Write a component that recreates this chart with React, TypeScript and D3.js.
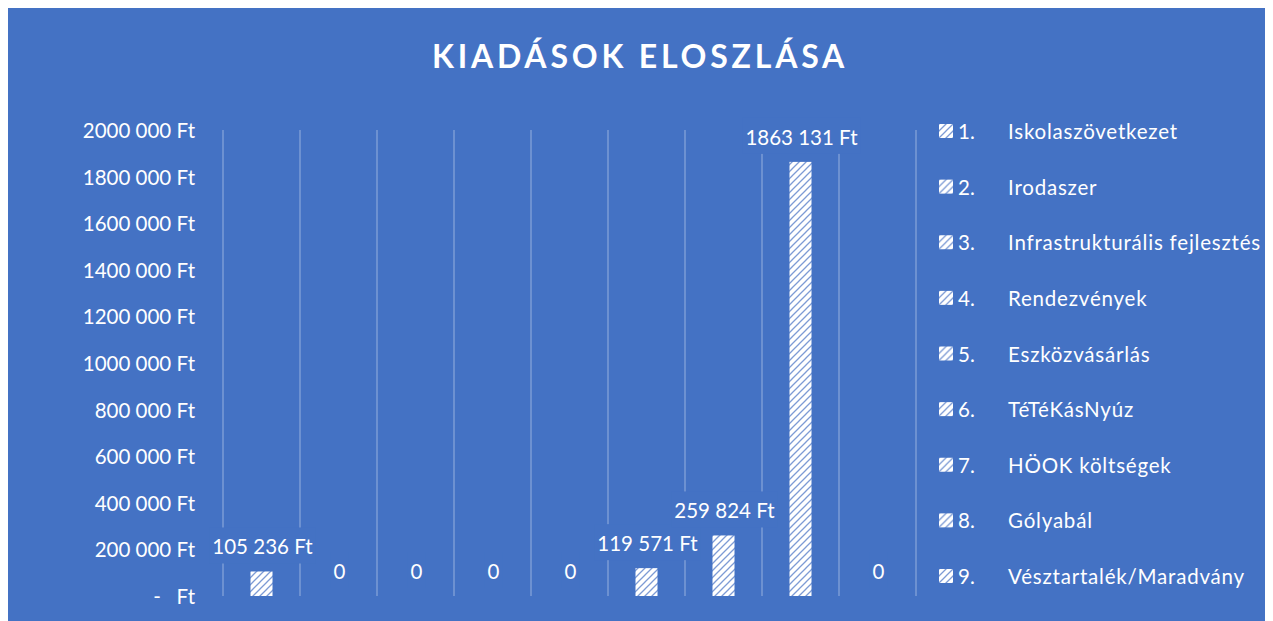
import React, { useEffect, useRef } from 'react';
import * as d3 from 'd3';

const title = 'KIADÁSOK ELOSZLÁSA';
const itemNumbers = ['1.', '2.', '3.', '4.', '5.', '6.', '7.', '8.', '9.'];
const itemNames = [
  'Iskolaszövetkezet',
  'Irodaszer',
  'Infrastrukturális fejlesztés',
  'Rendezvények',
  'Eszközvásárlás',
  'TéTéKásNyúz',
  'HÖOK költségek',
  'Gólyabál',
  'Vésztartalék/Maradvány',
];
const values = [105236, 0, 0, 0, 0, 119571, 259824, 1863131, 0];
const valueLabels = ['105 236 Ft', '0', '0', '0', '0', '119 571 Ft', '259 824 Ft', '1863 131 Ft', '0'];
const yTicks = [0, 200000, 400000, 600000, 800000, 1000000, 1200000, 1400000, 1600000, 1800000, 2000000];
const yTickLabels = [
  '-   Ft',
  '200 000 Ft',
  '400 000 Ft',
  '600 000 Ft',
  '800 000 Ft',
  '1000 000 Ft',
  '1200 000 Ft',
  '1400 000 Ft',
  '1600 000 Ft',
  '1800 000 Ft',
  '2000 000 Ft',
];

const W = 1264;
const H = 613;
const BG = '#4472C4';
const FONT = 'Lato, "Open Sans", sans-serif';
const FS = '20.5px';

const Chart = () => {
  const svgRef = useRef<SVGSVGElement>(null);

  useEffect(() => {
    const svg = d3.select(svgRef.current);
    svg.selectAll('*').remove();

    const defs = svg.append('defs');
    const pat = defs
      .append('pattern')
      .attr('id', 'hatch')
      .attr('patternUnits', 'userSpaceOnUse')
      .attr('width', 7)
      .attr('height', 7);
    pat.append('rect').attr('width', 7).attr('height', 7).attr('fill', '#ffffff');
    pat
      .append('path')
      .attr('d', 'M-1,8 L8,-1 M-1,1 L1,-1 M6,8 L8,6')
      .attr('stroke', '#7d9bd5')
      .attr('stroke-width', 1.3);

    svg.append('rect').attr('width', W).attr('height', H).attr('fill', BG);

    svg
      .append('text')
      .attr('x', 632)
      .attr('y', 47)
      .attr('text-anchor', 'middle')
      .attr('dominant-baseline', 'central')
      .attr('fill', '#fff')
      .style('font-family', FONT)
      .style('font-weight', 700)
      .style('font-size', '32px')
      .style('letter-spacing', '3.8px')
      .text(title);

    const x = d3.scaleBand<string>().domain(itemNames).range([215, 908]).padding(0);
    const y = d3.scaleLinear().domain([0, 2000000]).range([588, 122]);
    const barW = 22;

    // vertical gridlines between categories
    const bounds = itemNames.map((n) => x(n)!).concat([908]);
    svg
      .append('g')
      .selectAll('line')
      .data(bounds)
      .join('line')
      .attr('x1', (d) => d)
      .attr('x2', (d) => d)
      .attr('y1', y(2000000))
      .attr('y2', y(0))
      .attr('stroke', 'rgba(255,255,255,0.3)')
      .attr('stroke-width', 1.5);

    // y axis labels
    svg
      .append('g')
      .selectAll('text')
      .data(yTicks)
      .join('text')
      .attr('x', 187)
      .attr('y', (d) => y(d))
      .attr('text-anchor', 'end')
      .attr('dominant-baseline', 'central')
      .attr('fill', '#fff')
      .style('font-family', FONT)
      .style('font-size', FS)
      .style('white-space', 'pre')
      .text((d, i) => yTickLabels[i]);

    // bars
    svg
      .append('g')
      .selectAll('rect')
      .data(values)
      .join('rect')
      .attr('x', (d, i) => x(itemNames[i])! + (x.bandwidth() - barW) / 2)
      .attr('y', (d) => y(d))
      .attr('width', barW)
      .attr('height', (d) => y(0) - y(d))
      .attr('fill', 'url(#hatch)');

    // data labels with background box
    const lbl = svg
      .append('g')
      .selectAll('g')
      .data(values)
      .join('g')
      .attr('transform', (d, i) => `translate(${x(itemNames[i])! + x.bandwidth() / 2 + 1},${y(d) - 25})`);
    lbl
      .append('text')
      .attr('text-anchor', 'middle')
      .attr('dominant-baseline', 'central')
      .attr('fill', '#fff')
      .style('font-family', FONT)
      .style('font-size', FS)
      .text((d, i) => valueLabels[i]);
    lbl.each(function () {
      const g = d3.select(this);
      const t = g.select<SVGTextElement>('text').node()!;
      const w = t.getComputedTextLength();
      g.insert('rect', 'text')
        .attr('x', -w / 2 - 3)
        .attr('y', -19)
        .attr('width', w + 6)
        .attr('height', 36)
        .attr('fill', BG);
    });

    // legend
    const ly = d3.scalePoint<string>().domain(itemNames).range([123, 568]);
    const leg = svg
      .append('g')
      .selectAll('g')
      .data(itemNames)
      .join('g')
      .attr('transform', (d) => `translate(0,${ly(d)})`);
    leg
      .append('rect')
      .attr('x', 931)
      .attr('y', -7)
      .attr('width', 14)
      .attr('height', 14)
      .attr('fill', 'url(#hatch)');
    leg
      .append('text')
      .attr('x', 950)
      .attr('dominant-baseline', 'central')
      .attr('fill', '#fff')
      .style('font-family', FONT)
      .style('font-size', FS)
      .text((d, i) => itemNumbers[i]);
    leg
      .append('text')
      .attr('class', 'name')
      .attr('x', 1000)
      .attr('dominant-baseline', 'central')
      .attr('fill', '#fff')
      .style('font-family', FONT)
      .style('font-size', FS)
      .style('letter-spacing', '0.8px')
      .text((d) => d);
    leg.selectAll<SVGTextElement, string>('text.name').each(function () {
      const w = this.getComputedTextLength();
      if (1000 + w > W - 8) d3.select(this).attr('x', W - 8 - w);
    });
  }, []);

  return <svg ref={svgRef} width={W} height={H} style={{ display: 'block' }} />;
};

export default function App() {
  return (
    <React.Fragment>
      <Chart />
    </React.Fragment>
  );
}
